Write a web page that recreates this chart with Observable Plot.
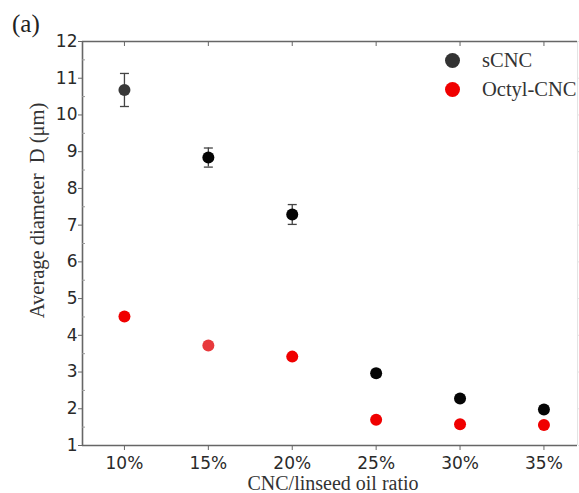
<!DOCTYPE html>
<html>
<head>
<meta charset="utf-8">
<script src="https://cdn.jsdelivr.net/npm/d3@7"></script>
<script src="https://cdn.jsdelivr.net/npm/@observablehq/plot@0.6"></script>
<style>
  html, body { margin: 0; padding: 0; background: #fff; }
  #wrap { position: relative; width: 579px; height: 493px; overflow: hidden; }
  #panel { position: absolute; left: 12px; top: 10px; font-family: "Liberation Serif", "Times New Roman", serif; font-size: 25px; color: #222; }
  #legend { position: absolute; left: 445px; top: 46px; font-family: "Liberation Serif", "Times New Roman", serif; font-size: 20.5px; color: #333; }
  .li { display: flex; align-items: center; height: 29px; }
  .sw { width: 15px; height: 15px; border-radius: 50%; margin-right: 22px; }
</style>
</head>
<body>
<div id="wrap">
  <div id="chart"></div>
  <div id="panel">(a)</div>
  <div id="legend"></div>
</div>
<script>
const ratios = [10, 15, 20, 25, 30, 35];
const sCNC = [10.68, 8.84, 7.29, 2.97, 2.28, 1.98];
const sCNCerr = [0.45, 0.26, 0.27, 0.10, 0.06, 0.06];
const octyl = [4.51, 3.72, 3.42, 1.70, 1.58, 1.56];
const sCNCfill = ["#383838", "#050505", "#050505", "#050505", "#050505", "#050505"];
const octylFill = ["#f00000", "#e8393c", "#f00000", "#f00000", "#f00000", "#f00000"];
const yTicks = [1, 2, 3, 4, 5, 6, 7, 8, 9, 10, 11, 12];
const yMinor = [1.5, 2.5, 3.5, 4.5, 5.5, 6.5, 7.5, 8.5, 9.5, 10.5, 11.5];
const seriesNames = ["sCNC", "Octyl-CNC"];
const seriesColors = ["#333333", "#f00000"];

const sData = ratios.map((r, i) => ({x: r, y: sCNC[i], e: sCNCerr[i], f: sCNCfill[i]}));
const oData = ratios.map((r, i) => ({x: r, y: octyl[i], f: octylFill[i]}));

const cap = {draw(ctx, size) { const w = Math.sqrt(size / Math.PI); ctx.moveTo(-w, 0); ctx.lineTo(w, 0); }};
const axisColor = "#666";
const serif = "'Liberation Serif', 'Times New Roman', serif";

const chart = Plot.plot({
  width: 579,
  height: 493,
  marginLeft: 82,
  marginRight: 2,
  marginTop: 41,
  marginBottom: 48,
  style: {background: "#fff", fontFamily: "'DejaVu Sans', Verdana, sans-serif", fontSize: "17px", color: "#333"},
  x: {domain: [7.5, 37], ticks: ratios},
  y: {domain: [1, 12], ticks: yTicks},
  marks: [
    // frame
    Plot.ruleY([12], {stroke: axisColor, strokeWidth: 1.3}),
    Plot.ruleY([1], {stroke: axisColor, strokeWidth: 1.6}),
    Plot.ruleX([7.5], {stroke: axisColor, strokeWidth: 1.6}),
    Plot.ruleX([37], {stroke: "#e4e4e4", strokeWidth: 1}),
    Plot.axisY({ticks: yTicks, tickSize: 4, tickPadding: 1, label: null, stroke: axisColor, fontSize: 17, fill: "#2a2a2a"}),
    Plot.axisY({ticks: yMinor, tickSize: -3, tickFormat: () => "", label: null, stroke: "#999"}),
    Plot.axisY({anchor: "right", ticks: yTicks, tickSize: 4, tickFormat: () => "", label: null, stroke: "#e4e4e4"}),
    Plot.axisX({ticks: ratios, tickSize: 5, tickPadding: 6, tickFormat: d => d + "%", label: null, stroke: axisColor, fontSize: 17, fill: "#2a2a2a"}),
    Plot.axisX({anchor: "top", ticks: ratios, tickSize: -4, tickFormat: () => "", label: null, stroke: axisColor}),
    // axis titles
    Plot.text(["Average diameter  D (μm)"], {frameAnchor: "left", textAnchor: "middle", lineAnchor: "middle", rotate: -90, dx: -45, dy: -33, fontFamily: serif, fontSize: 20.5, fill: "#333"}),
    Plot.text(["CNC/linseed oil ratio"], {frameAnchor: "bottom", textAnchor: "middle", lineAnchor: "middle", dy: 38, dx: 3, fontFamily: serif, fontSize: 20, fill: "#333"}),
    // error bars
    Plot.ruleX(sData, {x: "x", y1: d => d.y - d.e, y2: d => d.y + d.e, stroke: "#444", strokeWidth: 1.3}),
    Plot.dot(sData, {x: "x", y: d => d.y + d.e, symbol: cap, r: 4.5, stroke: "#444", fill: "none", strokeWidth: 1.3}),
    Plot.dot(sData, {x: "x", y: d => d.y - d.e, symbol: cap, r: 4.5, stroke: "#444", fill: "none", strokeWidth: 1.3}),
    // points
    Plot.dot(sData, {x: "x", y: "y", r: 6, fill: "f"}),
    Plot.dot(oData, {x: "x", y: "y", r: 6, fill: "f"})
  ]
});
document.getElementById("chart").appendChild(chart);

const legend = document.getElementById("legend");
seriesNames.forEach((n, i) => {
  const row = document.createElement("div");
  row.className = "li";
  const sw = document.createElement("div");
  sw.className = "sw";
  sw.style.background = seriesColors[i];
  const t = document.createElement("span");
  t.textContent = n;
  row.appendChild(sw);
  row.appendChild(t);
  legend.appendChild(row);
});
</script>
</body>
</html>
